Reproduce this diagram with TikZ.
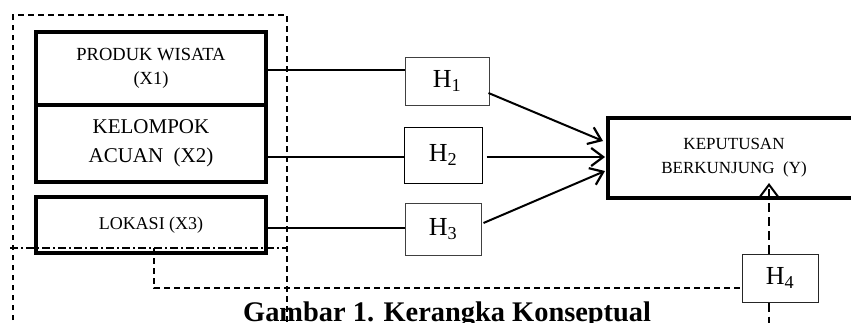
\documentclass[tikz,border=0pt]{standalone}
\usepackage{fontspec}
\setmainfont{Liberation Serif}
\usetikzlibrary{arrows.meta}
\begin{document}
\begin{tikzpicture}[x=1pt,y=-1pt,
  xbox/.style={draw,line width=4pt,inner sep=0pt,align=center},
  hbox/.style={draw,line width=1pt,inner sep=0pt,font=\fontsize{26}{30}\selectfont},
  link/.style={line width=1.4pt},
  arr/.style={line width=2pt,-{Straight Barb[length=12pt,width=18pt,line width=2.2pt]}},
  outerdash/.style={line width=1.3pt,dash pattern=on 5.5pt off 4.5pt},
  ldash/.style={line width=1.3pt,dash pattern=on 6pt off 4pt},
  vdash/.style={line width=1.6pt,dash pattern=on 9pt off 5pt}]
\useasboundingbox (0,0) rectangle (851,322);
% outer dashed frame
\draw[outerdash] (13,340) -- (13,15) -- (287,15) -- (287,340);
% boxes X
\node[xbox,minimum width=230pt,minimum height=73.5pt,font=\fontsize{18.5}{24.5}\selectfont] (X1) at (151,68.25) {PRODUK WISATA\\(X1)};
\node[xbox,minimum width=230pt,minimum height=76.5pt,font=\fontsize{21}{29}\selectfont] (X2) at (151,143.25) {KELOMPOK\\ACUAN\ \ (X2)};
\node[xbox,minimum width=230pt,minimum height=56pt,font=\fontsize{18}{22}\selectfont] (X3) at (151,225) {LOKASI (X3)};
% Y box
\node[xbox,minimum width=252pt,minimum height=80pt,font=\fontsize{17}{24}\selectfont] (Y) at (734,158) {KEPUTUSAN\\BERKUNJUNG\ \ (Y)};
% H boxes
\node[hbox,draw=black!75,minimum width=84pt,minimum height=48pt] (H1) at (447,81) {H\textsubscript{1}};
\node[hbox,minimum width=78pt,minimum height=56pt] (H2) at (443,155) {H\textsubscript{2}};
\node[hbox,draw=black!75,minimum width=76pt,minimum height=52pt] (H3) at (443,229) {H\textsubscript{3}};
\node[hbox,draw=black!85,minimum width=76pt,minimum height=48pt] (H4) at (780,278) {H\textsubscript{4}};
% links X -> H
\draw[link] (X1.east |- 0,70) -- (H1.west |- 0,70);
\draw[link] (X2.east |- 0,157) -- (H2.west |- 0,157);
\draw[link] (X3.east |- 0,228) -- (H3.west |- 0,228);
% arrows H -> Y
\coordinate (y1) at (603,141);
\coordinate (y2) at (605,157);
\coordinate (y3) at (605,171);
\draw[arr] ([xshift=-1pt]H1.east |- 0,93) -- (y1);
\draw[arr] ([xshift=4pt]H2.east |- 0,157) -- (y2);
\draw[arr] ([xshift=2pt]H3.east |- 0,223) -- (y3);
% dash-dot line
\coordinate (dd1) at (10,248);
\coordinate (dd2) at (287,248);
\draw[line width=1.3pt,dash pattern=on 8pt off 3pt on 2pt off 3pt] (dd1) -- (dd2);
% L-shaped dashed path to H4
\coordinate (lc) at (154,248);
\draw[ldash] (lc) -- (154,288) -- (H4.west |- 0,288);
% H4 -> Y
\coordinate (ytip) at (769,183);
\draw[vdash,-{Straight Barb[length=12pt,width=18pt,line width=2pt]}] (H4.north -| 769,0) -- (ytip);
\coordinate (h4b) at (769,330);
\draw[vdash] (H4.south -| 769,0) -- (h4b);
% caption
\node[anchor=base west,inner sep=0pt,font=\fontsize{28.4}{32}\selectfont\bfseries] (cap) at (243,321) {Gambar 1. Kerangka Konseptual};
\end{tikzpicture}
\end{document}
